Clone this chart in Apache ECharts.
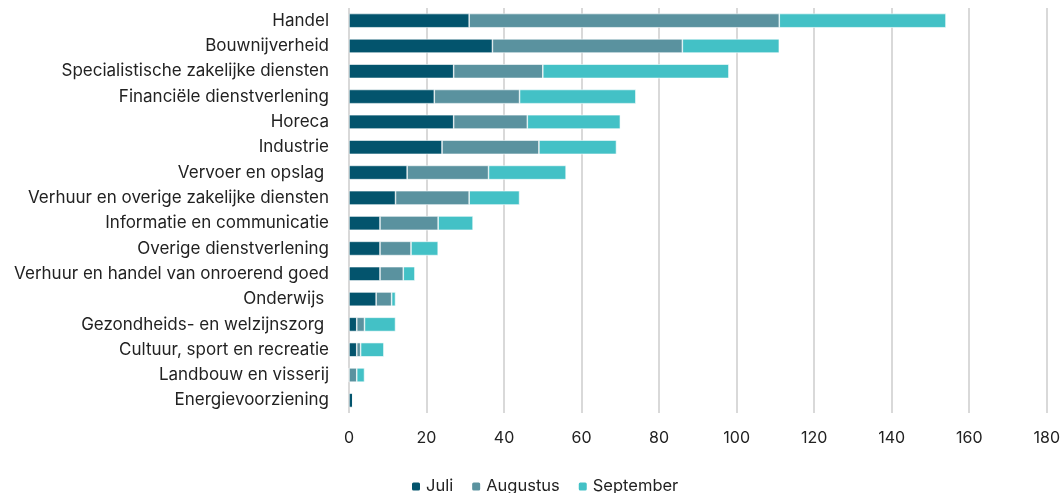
<!DOCTYPE html>
<html><head><meta charset="utf-8">
<script src="https://cdn.jsdelivr.net/npm/echarts@6/dist/echarts.min.js"></script>
<style>html,body{margin:0;padding:0;background:#fff}#c{width:1063px;height:493px}</style>
</head><body><div id="c"></div>
<script>
const categories = ["Handel","Bouwnijverheid","Specialistische zakelijke diensten","Financiële dienstverlening","Horeca","Industrie","Vervoer en opslag ","Verhuur en overige zakelijke diensten","Informatie en communicatie","Overige dienstverlening","Verhuur en handel van onroerend goed","Onderwijs ","Gezondheids- en welzijnszorg ","Cultuur, sport en recreatie","Landbouw en visserij","Energievoorziening"];
const juli      = [31,37,27,22,27,24,15,12,8,8,8,7,2,2,0,1];
const augustus  = [80,49,23,22,19,25,21,19,15,8,6,4,2,1,2,0];
const september = [43,25,48,30,24,20,20,13,9,7,3,1,8,6,2,0];
const xTicks = [0,20,40,60,80,100,120,140,160,180];

const font = "Inter, 'Noto Sans', sans-serif";
const chart = echarts.init(document.getElementById('c'));
const mk = (name, data, color) => ({
  name, type:'bar', stack:'t', data, barWidth:'56%',
  itemStyle:{color, borderColor:'#fff', borderWidth:0.6},
  emphasis:{disabled:true}
});
chart.setOption({
  animation:false,
  textStyle:{fontFamily:font},
  grid:{left:349, right:16, top:8, bottom:80, containLabel:false},
  xAxis:{type:'value', min:xTicks[0], max:xTicks[xTicks.length-1], interval:20,
    axisLine:{show:false}, axisTick:{show:false},
    axisLabel:{fontSize:16, color:'#222', margin:17, fontFamily:font},
    splitLine:{lineStyle:{color:'#d9d9d9', width:2}}},
  yAxis:{type:'category', data:categories, inverse:true,
    axisLine:{show:false}, axisTick:{show:false},
    axisLabel:{fontSize:17, color:'#222', margin:20, fontFamily:font}},
  legend:{top:473, left:405, itemWidth:10, itemHeight:10, itemGap:17,
    textStyle:{fontSize:16.5, color:'#222', fontFamily:font},
    data:['Juli','Augustus','September']},
  series:[mk('Juli',juli,'#03546D'), mk('Augustus',augustus,'#5A929F'), mk('September',september,'#43C1C6')]
});
</script></body></html>
